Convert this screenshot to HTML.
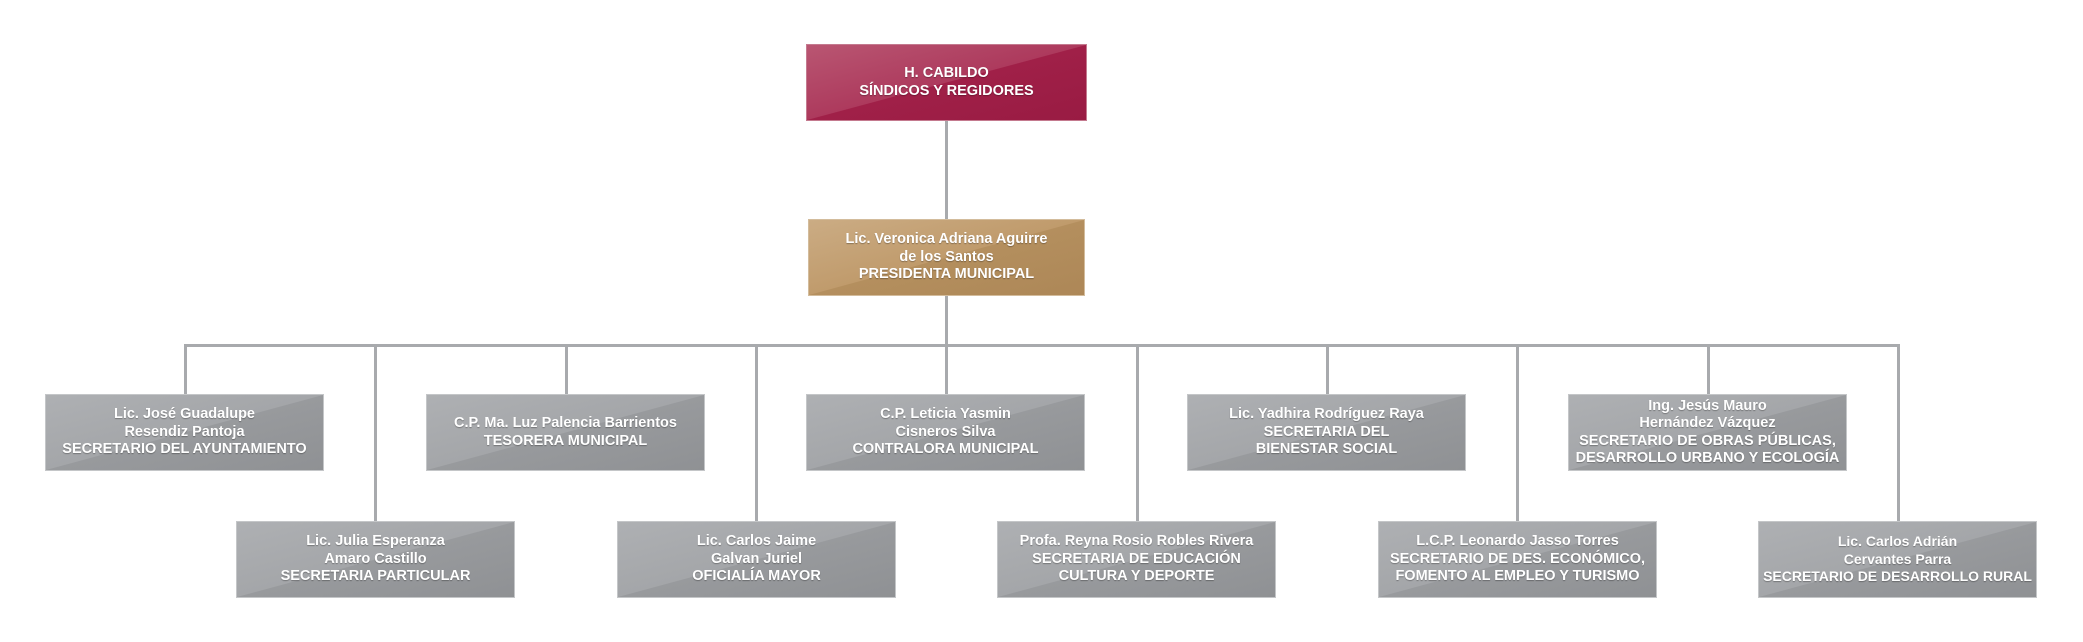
<!DOCTYPE html>
<html><head><meta charset="utf-8"><style>
html,body{margin:0;padding:0;background:#fff;}
body{width:2083px;height:642px;position:relative;overflow:hidden;font-family:"Liberation Sans",sans-serif;}
.b{position:absolute;width:279px;height:77px;box-sizing:border-box;display:flex;align-items:center;justify-content:center;text-align:center;color:#fff;font-weight:bold;font-size:14.5px;line-height:17.5px;text-shadow:0 1px 1px rgba(0,0,0,.3);
background:linear-gradient(to bottom right,#aeb0b3 0%,#a4a6a9 49.8%,#989a9d 50.2%,#8f9194 100%);border:1px solid #c4c6c8;}
.r{background:linear-gradient(to bottom right,#b95672 0%,#ad3a5d 49.8%,#a02048 50.2%,#991b43 100%);border-color:#c47a8f;}
.g{background:linear-gradient(to bottom right,#cbac84 0%,#c09b6c 49.8%,#b48f5e 50.2%,#ad8757 100%);border-color:#d3bc9c;}
.l{position:absolute;background:#a8aaad;}
</style></head><body>
<div class="l" style="left:945px;top:121px;width:3px;height:98px"></div>
<div class="l" style="left:945px;top:295px;width:3px;height:50px"></div>
<div class="l" style="left:184px;top:344px;width:1716px;height:3px"></div>
<div class="l" style="left:184px;top:344px;width:3px;height:50px"></div>
<div class="l" style="left:374px;top:344px;width:3px;height:177px"></div>
<div class="l" style="left:565px;top:344px;width:3px;height:50px"></div>
<div class="l" style="left:755px;top:344px;width:3px;height:177px"></div>
<div class="l" style="left:945px;top:344px;width:3px;height:50px"></div>
<div class="l" style="left:1136px;top:344px;width:3px;height:177px"></div>
<div class="l" style="left:1326px;top:344px;width:3px;height:50px"></div>
<div class="l" style="left:1516px;top:344px;width:3px;height:177px"></div>
<div class="l" style="left:1707px;top:344px;width:3px;height:50px"></div>
<div class="l" style="left:1897px;top:344px;width:3px;height:177px"></div>

<div class="b r" style="left:806px;top:44px;width:281px">H. CABILDO<br>SÍNDICOS Y REGIDORES</div>
<div class="b g" style="left:808px;top:219px;width:277px">Lic. Veronica Adriana Aguirre<br>de los Santos<br>PRESIDENTA MUNICIPAL</div>

<div class="b" style="left:45px;top:394px">Lic. José Guadalupe<br>Resendiz Pantoja<br>SECRETARIO DEL AYUNTAMIENTO</div>
<div class="b" style="left:426px;top:394px">C.P. Ma. Luz Palencia Barrientos<br>TESORERA MUNICIPAL</div>
<div class="b" style="left:806px;top:394px">C.P. Leticia Yasmin<br>Cisneros Silva<br>CONTRALORA MUNICIPAL</div>
<div class="b" style="left:1187px;top:394px">Lic. Yadhira Rodríguez Raya<br>SECRETARIA DEL<br>BIENESTAR SOCIAL</div>
<div class="b" style="left:1568px;top:394px">Ing. Jesús Mauro<br>Hernández Vázquez<br>SECRETARIO DE OBRAS PÚBLICAS,<br>DESARROLLO URBANO Y ECOLOGÍA</div>

<div class="b" style="left:236px;top:521px">Lic. Julia Esperanza<br>Amaro Castillo<br>SECRETARIA PARTICULAR</div>
<div class="b" style="left:617px;top:521px">Lic. Carlos Jaime<br>Galvan Juriel<br>OFICIALÍA MAYOR</div>
<div class="b" style="left:997px;top:521px">Profa. Reyna Rosio Robles Rivera<br>SECRETARIA DE EDUCACIÓN<br>CULTURA Y DEPORTE</div>
<div class="b" style="left:1378px;top:521px">L.C.P. Leonardo Jasso Torres<br>SECRETARIO DE DES. ECONÓMICO,<br>FOMENTO AL EMPLEO Y TURISMO</div>
<div class="b" style="left:1758px;top:521px;font-size:14px">Lic. Carlos Adrián<br>Cervantes Parra<br>SECRETARIO DE DESARROLLO RURAL</div>
</body></html>
